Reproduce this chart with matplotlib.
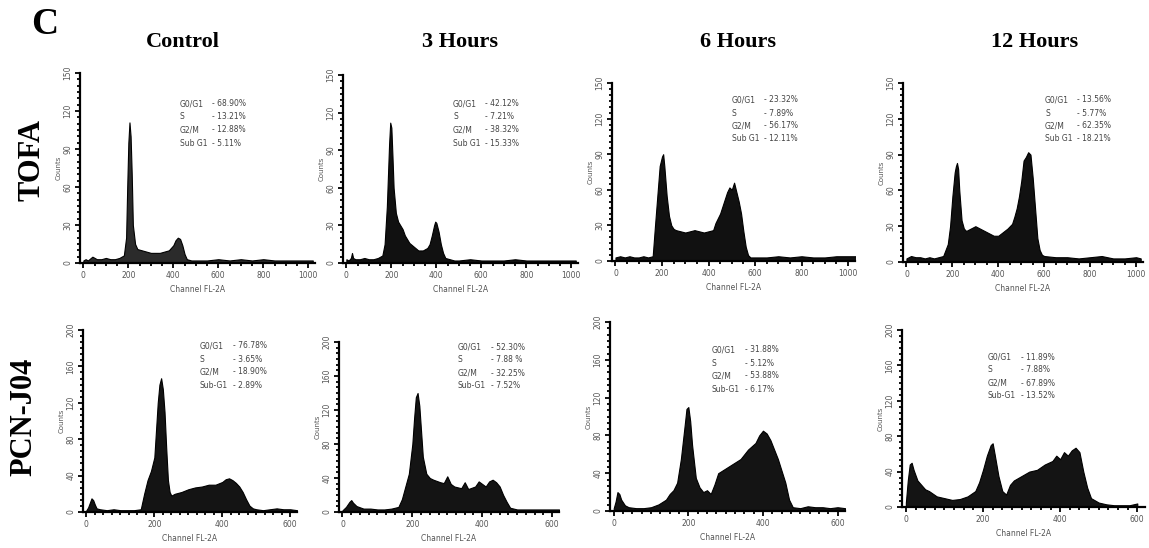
import numpy as np
import matplotlib
matplotlib.use("Agg")
import matplotlib.pyplot as plt
from matplotlib.ticker import MultipleLocator

W, H = 1149, 548

conditions = ["Control", "3 Hours", "6 Hours", "12 Hours"]
treatments = ["TOFA", "PCN-J04"]
phase_names = ["G0/G1", "S", "G2/M", "Sub G1"]
phase_names_pcn = ["G0/G1", "S", "G2/M", "Sub-G1"]

# TOFA row: cell-cycle percentages
tofa_pct = [["- 68.90%", "- 13.21%", "- 12.88%", "- 5.11%"],
            ["- 42.12%", "- 7.21%", "- 38.32%", "- 15.33%"],
            ["- 23.32%", "- 7.89%", "- 56.17%", "- 12.11%"],
            ["- 13.56%", "- 5.77%", "- 62.35%", "- 18.21%"]]
# PCN-J04 row
pcn_pct = [["- 76.78%", "- 3.65%", "- 18.90%", "- 2.89%"],
           ["- 52.30%", "- 7.88 %", "- 32.25%", "- 7.52%"],
           ["- 31.88%", "- 5.12%", "- 53.88%", "- 6.17%"],
           ["- 11.89%", "- 7.88%", "- 67.89%", "- 13.52%"]]

# histogram outlines (channel, counts)
tofa_ctrl_x = [0, 10, 20, 40, 60, 80, 100, 120, 140, 160, 180, 190, 195, 200, 205, 210, 215, 220, 230, 240,
               260, 280, 300, 320, 340, 360, 380, 400, 410, 420, 430, 440, 450, 460, 480, 500, 550, 600, 650,
               700, 750, 800, 850, 900, 950, 1000, 1020]
tofa_ctrl_y = [2, 3, 2, 5, 3, 3, 4, 3, 3, 4, 6, 20, 60, 95, 111, 100, 70, 30, 15, 11,
               10, 9, 8, 8, 8, 9, 10, 14, 18, 20, 19, 14, 7, 3, 2, 2, 2, 3, 2,
               3, 2, 3, 2, 2, 2, 2, 2]

tofa_3h_x = [0, 10, 20, 25, 30, 40, 60, 80, 100, 120, 140, 160, 170, 180, 190, 195, 200, 205, 210, 220,
             230, 240, 250, 260, 280, 300, 320, 340, 360, 370, 380, 390, 395, 400, 410, 420, 430, 440, 460,
             480, 500, 550, 600, 650, 700, 750, 800, 850, 900, 950, 1000, 1020]
tofa_3h_y = [3, 2, 4, 8, 4, 3, 3, 4, 3, 3, 4, 6, 15, 45, 95, 112, 108, 85, 60, 40,
             33, 30, 27, 22, 16, 13, 10, 10, 12, 15, 22, 30, 33, 32, 25, 15, 8, 4, 3,
             2, 2, 3, 2, 2, 2, 3, 2, 2, 2, 2, 2, 2]

tofa_6h_x = [0, 20, 40, 60, 80, 100, 120, 140, 160, 170, 180, 190, 200, 205, 210, 220, 230, 240, 250, 260,
             280, 300, 320, 340, 360, 380, 400, 420, 430, 440, 450, 460, 470, 480, 490, 500, 510, 520, 530,
             540, 550, 560, 570, 580, 600, 650, 700, 750, 800, 850, 900, 950, 1000, 1040]
tofa_6h_y = [3, 4, 3, 4, 3, 3, 4, 3, 4, 30, 55, 80, 88, 90, 80, 55, 38, 30, 27, 26,
             25, 24, 25, 26, 25, 24, 25, 26, 32, 36, 40, 46, 52, 58, 62, 60, 66, 58, 50,
             40, 25, 12, 5, 3, 3, 3, 4, 3, 4, 3, 3, 4, 4, 4]

tofa_12h_x = [0, 20, 40, 60, 80, 100, 120, 140, 160, 180, 190, 200, 210, 215, 220, 225, 230, 240, 250, 260,
              280, 300, 320, 340, 360, 380, 400, 420, 440, 460, 470, 480, 490, 500, 510, 520, 530, 540, 550,
              560, 570, 580, 590, 600, 650, 700, 750, 800, 850, 900, 950, 1000, 1020]
tofa_12h_y = [3, 5, 4, 4, 3, 4, 3, 4, 5, 15, 30, 55, 75, 80, 83, 78, 60, 35, 28, 26,
              28, 30, 28, 26, 24, 22, 22, 25, 28, 32, 38, 45, 55, 68, 85, 88, 92, 90, 70,
              45, 20, 10, 6, 5, 4, 4, 3, 4, 5, 3, 3, 4, 3]

pcn_ctrl_x = [0, 5, 10, 15, 20, 25, 30, 40, 60, 80, 100, 120, 140, 160, 170, 180, 190, 200, 205, 210,
              215, 220, 225, 230, 235, 240, 245, 250, 260, 280, 300, 320, 340, 360, 380, 400, 410, 420, 430,
              440, 450, 460, 470, 480, 490, 500, 520, 540, 560, 580, 600, 620]
pcn_ctrl_y = [2, 5, 10, 15, 13, 8, 4, 3, 2, 3, 2, 2, 2, 3, 20, 35, 45, 60, 90, 120,
              140, 147, 135, 110, 70, 35, 22, 18, 20, 22, 25, 27, 28, 30, 30, 33, 36, 37, 35,
              32, 28, 22, 14, 7, 4, 3, 2, 3, 4, 3, 3, 2]

pcn_3h_x = [0, 10, 20, 25, 30, 40, 60, 80, 100, 120, 140, 160, 170, 180, 190, 200, 205, 210, 215, 220,
            225, 230, 240, 250, 260, 280, 290, 300, 310, 320, 340, 350, 360, 380, 390, 400, 410, 420, 430,
            440, 450, 460, 470, 480, 500, 520, 540, 560, 580, 600, 620]
pcn_3h_y = [2, 6, 12, 14, 11, 7, 4, 4, 3, 3, 4, 6, 15, 30, 45, 80, 110, 135, 140, 125,
            95, 65, 45, 40, 38, 35, 34, 42, 33, 30, 28, 35, 27, 30, 36, 33, 30, 36, 38,
            35, 30, 20, 12, 5, 3, 3, 3, 3, 3, 3, 3]

pcn_6h_x = [0, 5, 10, 15, 20, 30, 40, 60, 80, 100, 120, 140, 150, 160, 170, 180, 190, 195, 200, 205,
            210, 220, 230, 240, 250, 260, 270, 280, 300, 320, 340, 360, 380, 390, 400, 410, 420, 440, 460,
            470, 480, 500, 520, 540, 560, 580, 600, 620]
pcn_6h_y = [3, 10, 20, 18, 12, 6, 4, 3, 3, 4, 7, 12, 18, 22, 30, 55, 90, 108, 110, 95,
            70, 35, 25, 20, 22, 18, 28, 40, 45, 50, 55, 65, 72, 80, 85, 82, 75, 55, 30,
            12, 4, 3, 5, 4, 4, 3, 4, 3]

pcn_12h_x = [0, 5, 10, 15, 20, 30, 40, 50, 60, 80, 100, 120, 140, 160, 180, 190, 200, 210, 220, 225,
             230, 240, 250, 260, 270, 280, 300, 320, 340, 360, 380, 390, 400, 410, 420, 430, 440, 450, 460,
             470, 480, 500, 520, 540, 560, 580, 600]
pcn_12h_y = [5, 30, 48, 50, 42, 30, 25, 20, 18, 12, 10, 8, 9, 12, 18, 28, 42, 58, 70, 72,
             60, 35, 18, 14, 25, 30, 35, 40, 42, 48, 52, 58, 54, 62, 58, 64, 67, 62, 40,
             22, 10, 5, 3, 2, 2, 2, 4]

tofa_data = [(tofa_ctrl_x, tofa_ctrl_y), (tofa_3h_x, tofa_3h_y),
             (tofa_6h_x, tofa_6h_y), (tofa_12h_x, tofa_12h_y)]
pcn_data = [(pcn_ctrl_x, pcn_ctrl_y), (pcn_3h_x, pcn_3h_y),
            (pcn_6h_x, pcn_6h_y), (pcn_12h_x, pcn_12h_y)]

# axes boxes in pixels: left, top, right, bottom
top_boxes = [(80, 73, 315, 263), (343, 75, 578, 263), (612, 83, 855, 261), (903, 83, 1143, 262)]
bot_boxes = [(83, 330, 297, 512), (339, 342, 559, 512), (610, 322, 845, 511), (902, 330, 1145, 507)]
# where the percentage text sits (label x, value x, first line y)
top_txt = [(180, 212, 104), (453, 485, 104), (732, 764, 100), (1045, 1077, 100)]
bot_txt = [(200, 233, 346), (458, 491, 347), (712, 745, 350), (988, 1021, 357)]

fig = plt.figure(figsize=(W / 100, H / 100), dpi=100)
serif = "Liberation Serif"


def px_axes(box):
    l, t, r, b = box
    return fig.add_axes([l / W, 1 - b / H, (r - l) / W, (b - t) / H])


def draw_panel(ax, xs, ys, xlim, ymax, ystep, xstep, xminor, colour):
    ax.fill_between(xs, ys, 0, color=colour, lw=0.8, edgecolor="black")
    ax.set_xlim(*xlim)
    ax.set_ylim(0, ymax)
    for s in ["top", "right"]:
        ax.spines[s].set_visible(False)
    for s in ["left", "bottom"]:
        ax.spines[s].set_linewidth(1.6)
    ax.yaxis.set_major_locator(MultipleLocator(ystep))
    ax.yaxis.set_minor_locator(MultipleLocator(ystep / 6))
    ax.xaxis.set_major_locator(MultipleLocator(xstep))
    ax.xaxis.set_minor_locator(MultipleLocator(xminor))
    ax.tick_params(which="both", width=1.3, color="black", direction="out")
    ax.tick_params(which="major", length=3.5, labelsize=5.5, labelcolor="#555555", pad=2)
    ax.tick_params(which="minor", length=2.5)
    for lab in ax.get_yticklabels():
        lab.set_rotation(90)
        lab.set_va("center")
    ax.set_ylabel("Counts", fontsize=5, color="#555555", labelpad=1)
    ax.set_xlabel("Channel FL-2A", fontsize=5.5, color="#555555", labelpad=4)
    ax.patch.set_alpha(0)


for i in range(4):
    ax = px_axes(top_boxes[i])
    colour = "#2b2b2b" if i == 0 else "#111111"
    draw_panel(ax, tofa_data[i][0], tofa_data[i][1], (-15, 1030), 150, 30, 200, 50, colour)
    ax = px_axes(bot_boxes[i])
    draw_panel(ax, pcn_data[i][0], pcn_data[i][1], (-10, 620), 200, 40, 200, 25, "#141414")

for i in range(4):
    for row_txt, names, pct in [(top_txt, phase_names, tofa_pct), (bot_txt, phase_names_pcn, pcn_pct)]:
        lx, vx, y0 = row_txt[i]
        for k in range(4):
            y = y0 + k * 13
            fig.text(lx / W, 1 - y / H, names[k], fontsize=5.5, color="#444444", va="center")
            fig.text(vx / W, 1 - y / H, pct[i][k], fontsize=5.5, color="#444444", va="center")

title_x = [183, 460, 738, 1035]
for i, name in enumerate(conditions):
    fig.text(title_x[i] / W, 1 - 42 / H, name, fontsize=16, fontweight="bold",
             family=serif, ha="center", va="center")

fig.text(45 / W, 1 - 25 / H, "C", fontsize=27, fontweight="bold", family=serif,
         ha="center", va="center")
fig.text(32 / W, 1 - 160 / H, treatments[0], fontsize=22, fontweight="bold", family=serif,
         rotation=90, ha="center", va="center")
fig.text(24 / W, 1 - 417 / H, treatments[1], fontsize=22, fontweight="bold", family=serif,
         rotation=90, ha="center", va="center")

fig.savefig("out.png", dpi=100)
